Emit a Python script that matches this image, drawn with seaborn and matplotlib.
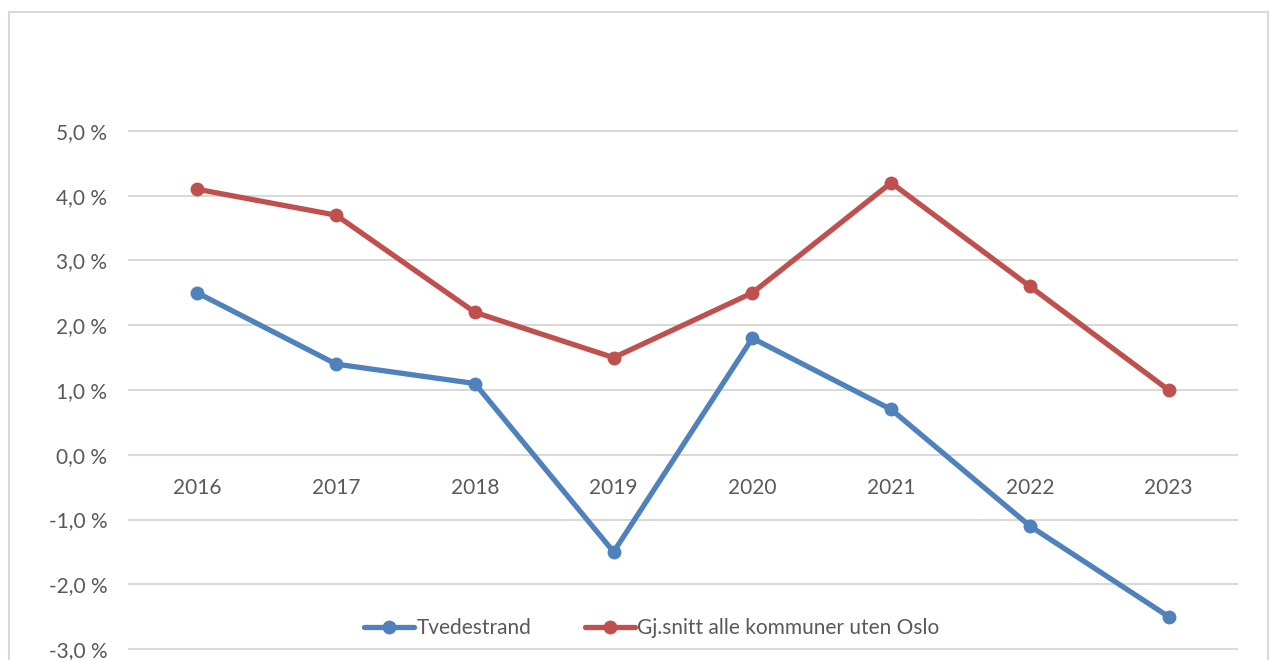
import pandas as pd
import matplotlib.pyplot as plt
import matplotlib.ticker as mticker
from matplotlib.patches import Rectangle
import seaborn as sns

# --- data ---
years = [2016, 2017, 2018, 2019, 2020, 2021, 2022, 2023]
tvedestrand = [2.5, 1.4, 1.1, -1.5, 1.8, 0.7, -1.1, -2.5]
snitt = [4.1, 3.7, 2.2, 1.5, 2.5, 4.2, 2.6, 1.0]
series_names = ['Tvedestrand', 'Gj.snitt alle kommuner uten Oslo']
colors = ['#4F81BD', '#C0504D']
y_ticks = [-3, -2, -1, 0, 1, 2, 3, 4, 5]

df = pd.DataFrame({
    'year': years * 2,
    'value': tvedestrand + snitt,
    'serie': [series_names[0]] * len(years) + [series_names[1]] * len(years),
})

sns.set_style('white')
plt.rcParams['font.family'] = ['Lato', 'DejaVu Sans']
text_col = '#595959'
fs = 15

fig = plt.figure(figsize=(12.8, 6.6), dpi=100)
# chart border (excel style, cut off at the bottom)
fig.patches.append(Rectangle((9 / 1280, -0.05), 1259 / 1280, 1.05 - 12 / 660,
                             transform=fig.transFigure, fill=False,
                             edgecolor='#D9D9D9', linewidth=1.5))

ax = fig.add_axes([128 / 1280, 1 - 650 / 660, 1110 / 1280, (650 - 130) / 660])
sns.lineplot(data=df, x='year', y='value', hue='serie', palette=colors,
             marker='o', markersize=10, markeredgewidth=0, linewidth=3.8,
             ax=ax, zorder=3)

ax.set_xlim(2015.5, 2023.5)
ax.set_ylim(-3.015, 5.015)
ax.set_yticks(y_ticks)
ax.yaxis.set_major_formatter(mticker.FuncFormatter(lambda v, p: f'{v:.1f} %'.replace('.', ',')))
ax.set_xticks(years)
ax.grid(axis='y', color='#D9D9D9', linewidth=1.5)
ax.grid(axis='x', visible=False)
for s in ax.spines.values():
    s.set_visible(False)
ax.spines['bottom'].set_position(('data', 0))
ax.tick_params(axis='x', length=0, pad=16.5, labelsize=fs, labelcolor=text_col)
ax.tick_params(axis='y', length=0, pad=15, labelsize=fs, labelcolor=text_col)
ax.set_xlabel('')
ax.set_ylabel('')

handles, labels = ax.get_legend_handles_labels()
ax.get_legend().remove()
fig.legend(handles, labels, loc='center', bbox_to_anchor=(652 / 1280, 1 - 628 / 660),
           ncol=2, frameon=False, fontsize=fs, labelcolor=text_col,
           handlelength=2.4, handletextpad=0.1, columnspacing=2.6)

fig.savefig('out.png', dpi=100)
